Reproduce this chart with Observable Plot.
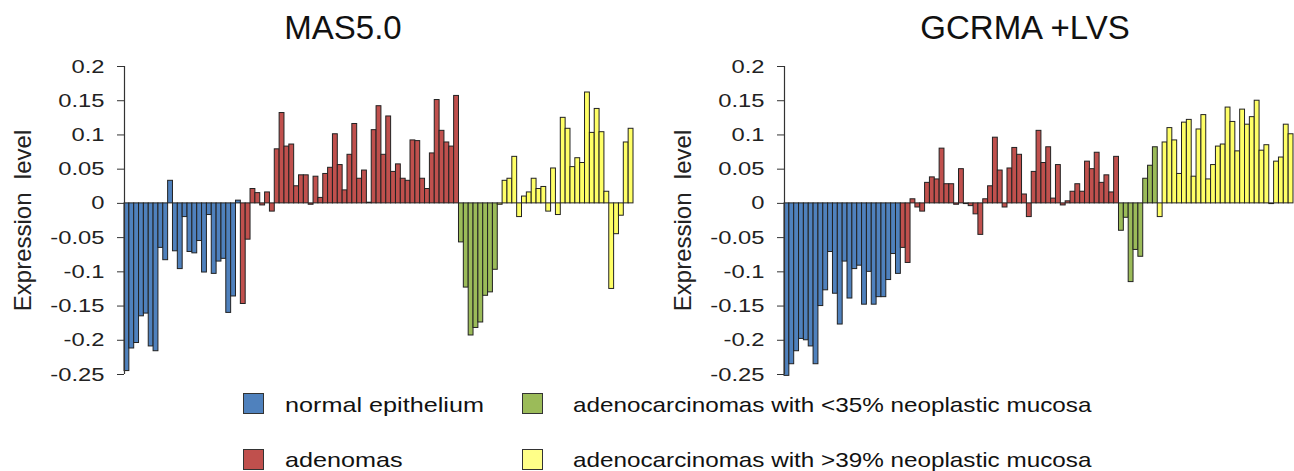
<!DOCTYPE html>
<html>
<head>
<meta charset="utf-8">
<script src="https://cdn.jsdelivr.net/npm/d3@7"></script>
<script src="https://cdn.jsdelivr.net/npm/@observablehq/plot@0.6"></script>
<style>
  html, body { margin: 0; padding: 0; background: #fff; }
  #root { position: relative; width: 1294px; height: 471px; overflow: hidden; font-family: "Liberation Sans", Arial, Helvetica, sans-serif; color: #111; }
  .panel { position: absolute; top: 0; }
  .title { position: absolute; width: 300px; text-align: center; font-size: 33px; line-height: 33px; top: 11px; }
  .sw { position: absolute; width: 21px; height: 21px; box-sizing: border-box; border: 1px solid #333; }
  .lt { position: absolute; font-size: 21px; line-height: 21px; white-space: nowrap; transform-origin: 0 0; }
</style>
</head>
<body>
<div id="root"></div>
<script>
// ---- data ----
const groups = [
  "normal epithelium",
  "adenomas",
  "adenocarcinomas with <35% neoplastic mucosa",
  "adenocarcinomas with >39% neoplastic mucosa"
];
const groupCounts = [24, 45, 8, 28];
const groupColors = ["#4F81BD", "#C0504D", "#9BBB59", "#FFFF66"];
const panelTitles = ["MAS5.0", "GCRMA +LVS"];
const yLabel = "Expression\u00a0 level";
const yTicks = [0.2, 0.15, 0.1, 0.05, 0, -0.05, -0.1, -0.15, -0.2, -0.25];

const mas5 = [
  -0.245, -0.212, -0.204, -0.165, -0.161, -0.209, -0.216, -0.065, -0.083, 0.033,
  -0.070, -0.096, -0.020, -0.071, -0.073, -0.055, -0.101, -0.017, -0.103, -0.085,
  -0.081, -0.160, -0.136, 0.004,
  -0.147, -0.053, 0.021, 0.015, -0.003, 0.016, -0.012, 0.079, 0.132, 0.083,
  0.086, 0.025, 0.041, 0.041, -0.002, 0.039, 0.008, 0.043, 0.052, 0.101,
  0.056, 0.019, 0.071, 0.116, 0.036, 0.048, 0.001, 0.107, 0.142, 0.071,
  0.127, 0.046, 0.057, 0.036, 0.033, 0.092, 0.091, 0.036, 0.021, 0.073,
  0.151, 0.106, 0.089, 0.083, 0.157,
  -0.057, -0.123, -0.193, -0.182, -0.174, -0.135, -0.130, -0.097,
  -0.002, 0.033, 0.036, 0.068, -0.020, 0.010, 0.016, 0.036, 0.021, 0.024,
  -0.012, 0.051, -0.017, 0.125, 0.109, 0.053, 0.066, 0.059, 0.162, 0.103,
  0.138, 0.104, 0.017, -0.125, -0.045, -0.018, 0.089, 0.109
];

const gcrma = [
  -0.252, -0.235, -0.216, -0.198, -0.200, -0.209, -0.235, -0.150, -0.127, -0.071,
  -0.132, -0.177, -0.085, -0.139, -0.096, -0.091, -0.148, -0.100, -0.148, -0.137,
  -0.137, -0.112, -0.074, -0.103,
  -0.065, -0.087, 0.006, -0.006, -0.012, 0.030, 0.038, 0.035, 0.080, 0.028,
  0.028, -0.002, 0.050, -0.001, -0.004, -0.016, -0.046, 0.006, 0.025, 0.096,
  0.048, -0.006, 0.051, 0.081, 0.071, 0.013, -0.020, 0.046, 0.106, 0.059,
  0.082, 0.007, 0.056, -0.003, 0.003, 0.017, 0.028, 0.017, 0.061, 0.050,
  0.074, 0.030, 0.041, 0.016, 0.068,
  -0.040, -0.021, -0.115, -0.068, -0.078, 0.036, 0.055, 0.082,
  -0.020, 0.089, 0.110, 0.092, 0.043, 0.118, 0.122, 0.039, 0.108, 0.129,
  0.035, 0.056, 0.083, 0.086, 0.140, 0.119, 0.076, 0.137, 0.115, 0.126,
  0.150, 0.077, 0.085, -0.001, 0.061, 0.067, 0.115, 0.101
];

// ---- build table ----
const groupOf = [];
groupCounts.forEach((c, gi) => { for (let k = 0; k < c; k++) groupOf.push(groups[gi]); });
function table(values) {
  return values.map((v, i) => ({ i0: i, i1: i + 1, v, g: groupOf[i] }));
}
const nBars = mas5.length;

const root = document.getElementById("root");

function panel(values, title, left, width, marginLeft, marginRight, titleCenter) {
  const p = Plot.plot({
    width, height: 390,
    marginLeft, marginRight, marginTop: 66, marginBottom: 16,
    style: { fontFamily: '"Liberation Sans", Arial, Helvetica, sans-serif', color: "#222", background: "transparent" },
    x: { domain: [0, nBars], axis: null },
    y: { domain: [-0.25, 0.2], axis: null },
    color: { domain: groups, range: groupColors },
    marks: [
      Plot.rectY(table(values), { x1: "i0", x2: "i1", y1: () => 0, y2: "v", fill: "g", stroke: "#222", strokeWidth: 1 }),
      Plot.ruleX([0], { y1: -0.25, y2: 0.2, stroke: "#333", strokeWidth: 1.2 }),
      Plot.axisY({ ticks: yTicks, tickFormat: d => String(+(+d).toFixed(2)), tickSize: 7, tickPadding: 13, fontSize: 19, stroke: "#333", label: null }),
      Plot.text([yLabel], { text: d => d, frameAnchor: "left", textAnchor: "middle", lineAnchor: "middle", rotate: -90, dx: -101, fontSize: 24, fill: "#222" })
    ]
  });
  // horizontal stretch of tick labels as in the reference
  p.querySelectorAll('g[aria-label="y-axis tick label"] text').forEach(t => {
    const x = +(t.getAttribute("x") || 0);
    t.setAttribute("transform", (t.getAttribute("transform") || "") + ` translate(${x},0) scale(1.25,1) translate(${-x},0)`);
  });
  p.classList.add("panel");
  p.style.left = left + "px";
  root.appendChild(p);
  const tt = document.createElement("div");
  tt.className = "title";
  tt.textContent = title;
  tt.style.left = (titleCenter - 150) + "px";
  root.appendChild(tt);
}

panel(mas5, panelTitles[0], 0, 650, 124, 17, 343);
panel(gcrma, panelTitles[1], 650, 644, 134, 1, 1025);

// ---- legend ----
const legendPos = [
  { sx: 243, sy: 393, tx: 285, ty: 394, k: 1.2 },
  { sx: 243, sy: 449, tx: 285, ty: 449, k: 1.2 },
  { sx: 522, sy: 393, tx: 573, ty: 394, k: 1.155 },
  { sx: 522, sy: 449, tx: 573, ty: 449, k: 1.155 }
];
const legendSwatch = ["#4F81BD", "#C0504D", "#9BBB59", "#FFFF88"];
groups.forEach((g, i) => {
  const pos = legendPos[i];
  const sw = document.createElement("div");
  sw.className = "sw";
  sw.style.left = pos.sx + "px";
  sw.style.top = pos.sy + "px";
  sw.style.background = legendSwatch[i];
  root.appendChild(sw);
  const t = document.createElement("div");
  t.className = "lt";
  t.style.left = pos.tx + "px";
  t.style.top = pos.ty + "px";
  t.style.transform = `scaleX(${pos.k})`;
  t.textContent = g;
  root.appendChild(t);
});
</script>
</body>
</html>
